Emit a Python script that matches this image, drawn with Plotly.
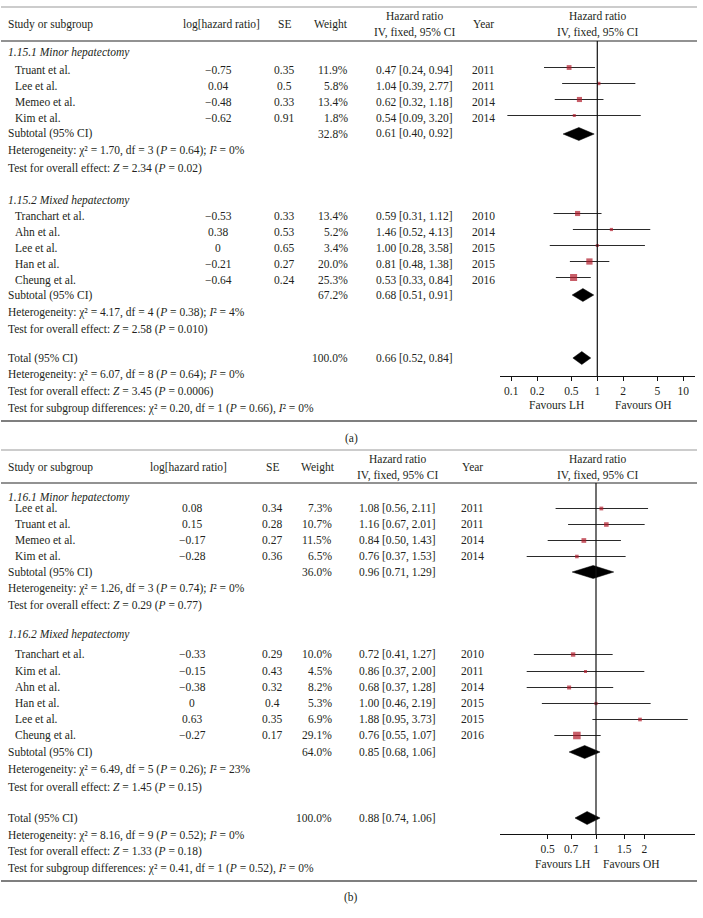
import plotly.graph_objects as go

W, H = 703, 918
FONT = "Liberation Serif, Times New Roman, serif"
TXT = "#231f20"
RED = "#b01a2a"
FS = 11.5

# ---------------- DATA: panel (a) ----------------
a1_title = "1.15.1 Minor hepatectomy"
a1_study = ["Truant et al.", "Lee et al.", "Memeo et al.", "Kim et al."]
a1_loghr = [-0.75, 0.04, -0.48, -0.62]
a1_se = [0.35, 0.5, 0.33, 0.91]
a1_weight = [11.9, 5.8, 13.4, 1.8]
a1_hr = [0.47, 1.04, 0.62, 0.54]
a1_lo = [0.24, 0.39, 0.32, 0.09]
a1_hi = [0.94, 2.77, 1.18, 3.20]
a1_year = [2011, 2011, 2014, 2014]

a2_title = "1.15.2 Mixed hepatectomy"
a2_study = ["Tranchart et al.", "Ahn et al.", "Lee et al.", "Han et al.", "Cheung et al."]
a2_loghr = [-0.53, 0.38, 0, -0.21, -0.64]
a2_se = [0.33, 0.53, 0.65, 0.27, 0.24]
a2_weight = [13.4, 5.2, 3.4, 20.0, 25.3]
a2_hr = [0.59, 1.46, 1.00, 0.81, 0.53]
a2_lo = [0.31, 0.52, 0.28, 0.48, 0.33]
a2_hi = [1.12, 4.13, 3.58, 1.38, 0.84]
a2_year = [2010, 2014, 2015, 2015, 2016]

a_sub_weight = [32.8, 67.2]
a_sub_hr = [0.61, 0.68]
a_sub_lo = [0.40, 0.51]
a_sub_hi = [0.92, 0.91]
a_sub_chi2 = ["1.70", "4.17"]
a_sub_df = [3, 4]
a_sub_p = ["0.64", "0.38"]
a_sub_i2 = [0, 4]
a_sub_z = ["2.34", "2.58"]
a_sub_pz = ["0.02", "0.010"]
a_total = [0.66, 0.52, 0.84]
a_total_stats = ["6.07", 8, "0.64", 0, "3.45", "0.0006"]
a_diff = ["0.20", 1, "0.66", 0]
a_ticks = [0.1, 0.2, 0.5, 1, 2, 5, 10]

# ---------------- DATA: panel (b) ----------------
b1_title = "1.16.1 Minor hepatectomy"
b1_study = ["Lee et al.", "Truant et al.", "Memeo et al.", "Kim et al."]
b1_loghr = [0.08, 0.15, -0.17, -0.28]
b1_se = [0.34, 0.28, 0.27, 0.36]
b1_weight = [7.3, 10.7, 11.5, 6.5]
b1_hr = [1.08, 1.16, 0.84, 0.76]
b1_lo = [0.56, 0.67, 0.50, 0.37]
b1_hi = [2.11, 2.01, 1.43, 1.53]
b1_year = [2011, 2011, 2014, 2014]

b2_title = "1.16.2 Mixed hepatectomy"
b2_study = ["Tranchart et al.", "Kim et al.", "Ahn et al.", "Han et al.", "Lee et al.", "Cheung et al."]
b2_loghr = [-0.33, -0.15, -0.38, 0, 0.63, -0.27]
b2_se = [0.29, 0.43, 0.32, 0.4, 0.35, 0.17]
b2_weight = [10.0, 4.5, 8.2, 5.3, 6.9, 29.1]
b2_hr = [0.72, 0.86, 0.68, 1.00, 1.88, 0.76]
b2_lo = [0.41, 0.37, 0.37, 0.46, 0.95, 0.55]
b2_hi = [1.27, 2.00, 1.28, 2.19, 3.73, 1.07]
b2_year = [2010, 2011, 2014, 2015, 2015, 2016]

b_sub_weight = [36.0, 64.0]
b_sub_hr = [0.96, 0.85]
b_sub_lo = [0.71, 0.68]
b_sub_hi = [1.29, 1.06]
b_sub_chi2 = ["1.26", "6.49"]
b_sub_df = [3, 5]
b_sub_p = ["0.74", "0.26"]
b_sub_i2 = [0, 23]
b_sub_z = ["0.29", "1.45"]
b_sub_pz = ["0.77", "0.15"]
b_total = [0.88, 0.74, 1.06]
b_total_stats = ["8.16", 9, "0.52", 0, "1.33", "0.18"]
b_diff = ["0.41", 1, "0.52", 0]
b_ticks = [0.5, 0.7, 1, 1.5, 2]


def num(v):
    return f"{v:g}".replace("-", "\u2212")


def it(s):
    return f'<span style="font-style:italic;font-size:{FS}px">{s}</span>'


def het(chi2, df, p, i2, sep=";"):
    return (f"Heterogeneity: \u03c7\u00b2 = {chi2}, df = {df} ({it('P')} = {p}){sep} "
            f"{it('I')}\u00b2 = {i2}%")


def ztest(z, p):
    return f"Test for overall effect: {it('Z')} = {z} ({it('P')} = {p})"


fig = go.Figure()
ann = []
shapes = []
PAD = 2  # annotation inner padding in px


def px(x):
    return x / W


def py(y):
    return 1 - y / H


def text(s, x, y, anchor="left", italic=False, size=FS):
    if italic:
        s = it(s)
    if anchor == "left":
        x -= PAD
    elif anchor == "right":
        x += PAD
    ann.append(dict(text=s, x=px(x), y=py(y), xref="paper", yref="paper",
                    xanchor=anchor, yanchor="middle", showarrow=False,
                    font=dict(family=FONT, size=size, color=TXT)))


def hline(y, color, width):
    shapes.append(dict(type="line", xref="paper", yref="paper", x0=px(1), x1=px(697),
                       y0=py(y), y1=py(y), line=dict(color=color, width=width)))


def panel(L, groups, sub_w, sub_hr, sub_lo, sub_hi, sub_stats, total, total_stats, diff,
          xa, ya, caption):
    hline(L["top"], "#9a9a9a", 1.2)
    hline(L["head"], "#6e6e6e", 1.6)
    hline(L["bottom"], "#555555", 1.4)
    h1, hm, h2 = L["hdr"]
    text("Study or subgroup", 8, hm)
    text("log[hazard ratio]", L["log_h"], hm, "center")
    text("SE", L["se"], hm, "center")
    text("Weight", L["w_h"], hm, "center")
    text("Hazard ratio", L["hr"], h1, "center")
    text("IV, fixed, 95% CI", L["hr"], h2, "center")
    text("Year", L["year"], hm, "center")
    text("Hazard ratio", L["forest"], h1, "center")
    text("IV, fixed, 95% CI", L["forest"], h2, "center")

    cx, cy, mx, my, ms = [], [], [], [], []
    dx, dy = [], []
    dh = 6.5
    for g, (title, study, loghr, se, wt, hr, lo, hi, yr) in enumerate(groups):
        R = L["groups"][g]
        text(title, 8, R["title"], italic=True)
        for i in range(len(study)):
            y = R["rows"][i]
            text(study[i], 15, y)
            text(num(loghr[i]), L["log"], y, "center")
            text(num(se[i]), L["se"], y, "center")
            text(f"{wt[i]:.1f}%", L["w"], y, "right")
            text(f"{hr[i]:.2f} [{lo[i]:.2f}, {hi[i]:.2f}]", L["hr"], y, "center")
            text(str(yr[i]), L["year"], y, "center")
            yy = y + L["dy"]
            cx += [lo[i], hi[i], None]
            cy += [yy, yy, None]
            mx.append(hr[i])
            my.append(yy)
            ms.append(max(3.0, 1.4 * wt[i] ** 0.5))
        ys = R["sub"]
        text("Subtotal (95% CI)", 8, ys)
        text(f"{sub_w[g]:.1f}%", L["w"], ys, "right")
        text(f"{sub_hr[g]:.2f} [{sub_lo[g]:.2f}, {sub_hi[g]:.2f}]", L["hr"], ys, "center")
        dx += [sub_lo[g], sub_hr[g], sub_hi[g], sub_hr[g], sub_lo[g], None]
        dy += [ys, ys - dh, ys, ys + dh, ys, None]
        chi2, df, p, i2, z, pz = [s[g] for s in sub_stats]
        text(het(chi2, df, p, i2), 8, R["het"])
        text(ztest(z, pz), 8, R["z"])

    T = L["total"]
    text("Total (95% CI)", 8, T[0])
    text("100.0%", L["w"], T[0], "right")
    text(f"{total[0]:.2f} [{total[1]:.2f}, {total[2]:.2f}]", L["hr"], T[0], "center")
    dx += [total[1], total[0], total[2], total[0], total[1], None]
    dy += [T[0], T[0] - dh, T[0], T[0] + dh, T[0], None]
    text(het(*total_stats[:4]), 8, T[1])
    text(ztest(*total_stats[4:]), 8, T[2])
    text("Test for subgroup differences: \u03c7\u00b2 = %s, df = %s (%s = %s), "
         "%s\u00b2 = %s%%" % (diff[0], diff[1], it("P"), diff[2], it("I"), diff[3]),
         8, T[3])

    text("Favours LH", L["fav"][0], L["fav"][2], "center")
    text("Favours OH", L["fav"][1], L["fav"][2], "center")
    text(caption, 351, L["cap"], "center")

    shapes.append(dict(type="line", xref=xa, yref=ya, x0=1, x1=1, y0=L["head"], y1=L["axis"],
                       line=dict(color="#111", width=1.2)))
    fig.add_trace(go.Scatter(x=cx, y=cy, mode="lines", xaxis=xa, yaxis=ya,
                             line=dict(color="#2a2a2a", width=1), hoverinfo="skip",
                             showlegend=False))
    fig.add_trace(go.Scatter(x=mx, y=my, mode="markers", xaxis=xa, yaxis=ya,
                             marker=dict(symbol="square", size=ms, color=RED, line=dict(width=0)),
                             showlegend=False))
    fig.add_trace(go.Scatter(x=dx, y=dy, mode="lines", fill="toself", fillcolor="#000",
                             xaxis=xa, yaxis=ya, line=dict(color="#000", width=0.5),
                             showlegend=False, hoverinfo="skip"))


LA = dict(top=7, head=41, bottom=421, axis=376, cap=438, hdr=(16, 24, 32),
          log=218, log_h=221.5, se=284, w=348, w_h=331, hr=414, year=483, forest=597, dy=-2.5,
          groups=[dict(title=53, rows=[70, 86, 102, 118], sub=134, het=151, z=168),
                  dict(title=200, rows=[216, 232, 248, 264, 280], sub=295, het=312, z=329)],
          total=[358, 374, 391, 408], fav=(556, 643, 405))
LB = dict(top=450, head=483, bottom=881, axis=834, cap=897, hdr=(459, 467, 475),
          log=192, log_h=188, se=272, w=332, w_h=318, hr=397, year=472, forest=597, dy=0.5,
          groups=[dict(title=497, rows=[508, 524, 540, 556], sub=572, het=588, z=605),
                  dict(title=634, rows=[654, 671, 687, 703, 719, 735], sub=752, het=769, z=787)],
          total=[818, 835, 851, 868], fav=(562, 631, 864))

panel(LA,
      [(a1_title, a1_study, a1_loghr, a1_se, a1_weight, a1_hr, a1_lo, a1_hi, a1_year),
       (a2_title, a2_study, a2_loghr, a2_se, a2_weight, a2_hr, a2_lo, a2_hi, a2_year)],
      a_sub_weight, a_sub_hr, a_sub_lo, a_sub_hi,
      [a_sub_chi2, a_sub_df, a_sub_p, a_sub_i2, a_sub_z, a_sub_pz],
      a_total, a_total_stats, a_diff, "x", "y", "(a)")
panel(LB,
      [(b1_title, b1_study, b1_loghr, b1_se, b1_weight, b1_hr, b1_lo, b1_hi, b1_year),
       (b2_title, b2_study, b2_loghr, b2_se, b2_weight, b2_hr, b2_lo, b2_hi, b2_year)],
      b_sub_weight, b_sub_hr, b_sub_lo, b_sub_hi,
      [b_sub_chi2, b_sub_df, b_sub_p, b_sub_i2, b_sub_z, b_sub_pz],
      b_total, b_total_stats, b_diff, "x2", "y2", "(b)")

x_left, x_right = 500, 695
axis_common = dict(type="log", showgrid=False, zeroline=False, showline=True,
                   linecolor="#111", linewidth=1.2, ticks="outside", ticklen=4,
                   tickcolor="#111", tickwidth=1, mirror=False,
                   tickfont=dict(family=FONT, size=FS, color=TXT),
                   domain=[px(x_left), px(x_right)], fixedrange=True)
# panel a: 1 at 597.3 px, 86 px per decade
a_lo_log = (x_left - 597.3) / 86.0
a_hi_log = (x_right - 597.3) / 86.0
# panel b: 1 at 596 px, 160.5 px per decade
b_lo_log = (x_left - 596.0) / 160.5
b_hi_log = (x_right - 596.0) / 160.5

fig.update_layout(
    width=W, height=H, margin=dict(l=0, r=0, t=0, b=0),
    paper_bgcolor="white", plot_bgcolor="rgba(0,0,0,0)",
    xaxis=dict(axis_common, range=[a_lo_log, a_hi_log], anchor="y",
               tickvals=a_ticks, ticktext=[f"{t:g}" for t in a_ticks]),
    yaxis=dict(domain=[py(LA["axis"]), py(LA["head"])], range=[LA["axis"], LA["head"]],
               visible=False, fixedrange=True),
    xaxis2=dict(axis_common, range=[b_lo_log, b_hi_log], anchor="y2",
                tickvals=b_ticks, ticktext=[f"{t:g}" for t in b_ticks]),
    yaxis2=dict(domain=[py(LB["axis"]), py(LB["head"])], range=[LB["axis"], LB["head"]],
                visible=False, fixedrange=True),
    annotations=ann, shapes=shapes, showlegend=False,
)

fig.write_html("out.html", config={"displayModeBar": False},
               post_script="document.body.style.margin='0px';document.body.style.overflow='hidden';")
